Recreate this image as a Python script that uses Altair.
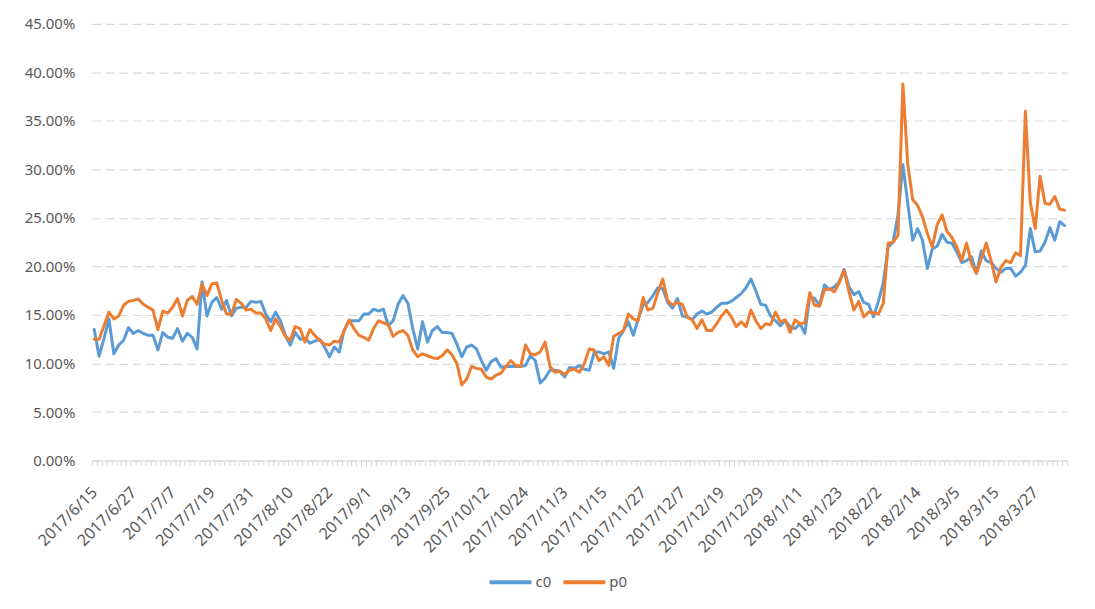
import json
import altair as alt
import pandas as pd

dates = [
    "2017/6/15", "2017/6/16", "2017/6/19", "2017/6/20", "2017/6/21", "2017/6/22", "2017/6/23", "2017/6/26",
    "2017/6/27", "2017/6/28", "2017/6/29", "2017/6/30",
    "2017/7/3", "2017/7/4", "2017/7/5", "2017/7/6", "2017/7/7", "2017/7/10", "2017/7/11", "2017/7/12",
    "2017/7/13", "2017/7/14", "2017/7/17", "2017/7/18", "2017/7/19", "2017/7/20", "2017/7/21", "2017/7/24",
    "2017/7/25", "2017/7/26", "2017/7/27", "2017/7/28", "2017/7/31",
    "2017/8/1", "2017/8/2", "2017/8/3", "2017/8/4", "2017/8/7", "2017/8/8", "2017/8/9", "2017/8/10",
    "2017/8/11", "2017/8/14", "2017/8/15", "2017/8/16", "2017/8/17", "2017/8/18", "2017/8/21", "2017/8/22",
    "2017/8/23", "2017/8/24", "2017/8/25", "2017/8/28", "2017/8/29", "2017/8/30", "2017/8/31",
    "2017/9/1", "2017/9/4", "2017/9/5", "2017/9/6", "2017/9/7", "2017/9/8", "2017/9/11", "2017/9/12",
    "2017/9/13", "2017/9/14", "2017/9/15", "2017/9/18", "2017/9/19", "2017/9/20", "2017/9/21", "2017/9/22",
    "2017/9/25", "2017/9/26", "2017/9/27", "2017/9/28", "2017/9/29",
    "2017/10/9", "2017/10/10", "2017/10/11", "2017/10/12", "2017/10/13", "2017/10/16", "2017/10/17",
    "2017/10/18", "2017/10/19", "2017/10/20", "2017/10/23", "2017/10/24", "2017/10/25", "2017/10/26",
    "2017/10/27", "2017/10/30", "2017/10/31",
    "2017/11/1", "2017/11/2", "2017/11/3", "2017/11/6", "2017/11/7", "2017/11/8", "2017/11/9", "2017/11/10",
    "2017/11/13", "2017/11/14", "2017/11/15", "2017/11/16", "2017/11/17", "2017/11/20", "2017/11/21",
    "2017/11/22", "2017/11/23", "2017/11/24", "2017/11/27", "2017/11/28", "2017/11/29", "2017/11/30",
    "2017/12/1", "2017/12/4", "2017/12/5", "2017/12/6", "2017/12/7", "2017/12/8", "2017/12/11", "2017/12/12",
    "2017/12/13", "2017/12/14", "2017/12/15", "2017/12/18", "2017/12/19", "2017/12/20", "2017/12/21",
    "2017/12/22", "2017/12/25", "2017/12/26", "2017/12/27", "2017/12/28", "2017/12/29",
    "2018/1/2", "2018/1/3", "2018/1/4", "2018/1/5", "2018/1/8", "2018/1/9", "2018/1/10", "2018/1/11",
    "2018/1/12", "2018/1/15", "2018/1/16", "2018/1/17", "2018/1/18", "2018/1/19", "2018/1/22", "2018/1/23",
    "2018/1/24", "2018/1/25", "2018/1/26", "2018/1/29", "2018/1/30", "2018/1/31",
    "2018/2/1", "2018/2/2", "2018/2/5", "2018/2/6", "2018/2/7", "2018/2/8", "2018/2/9", "2018/2/12",
    "2018/2/13", "2018/2/14", "2018/2/22", "2018/2/23", "2018/2/26", "2018/2/27", "2018/2/28",
    "2018/3/1", "2018/3/2", "2018/3/5", "2018/3/6", "2018/3/7", "2018/3/8", "2018/3/9", "2018/3/12",
    "2018/3/13", "2018/3/14", "2018/3/15", "2018/3/16", "2018/3/19", "2018/3/20", "2018/3/21", "2018/3/22",
    "2018/3/23", "2018/3/26", "2018/3/27", "2018/3/28", "2018/3/29", "2018/3/30",
    "2018/4/2", "2018/4/3", "2018/4/4",
]

c0 = [
    13.5, 10.75, 12.6, 14.6, 11.0, 11.9, 12.4, 13.7, 13.1, 13.4, 13.1, 12.9, 12.9, 11.4, 13.2, 12.7,
    12.6, 13.6, 12.3, 13.1, 12.7, 11.5, 18.4, 14.9, 16.3, 16.8, 15.6, 16.5, 14.9, 15.7, 15.8, 15.8,
    16.4, 16.3, 16.4, 15.1, 14.3, 15.3, 14.4, 12.9, 11.9, 13.2, 12.5, 12.6, 12.1, 12.3, 12.5, 11.7,
    10.7, 11.7, 11.2, 13.4, 14.4, 14.4, 14.4, 15.1, 15.1, 15.6, 15.4, 15.6, 13.9, 14.4, 16.1, 17.0,
    16.2, 13.6, 11.5, 14.3, 12.2, 13.4, 13.8, 13.2, 13.2, 13.1, 12.0, 10.7, 11.7, 11.9, 11.5, 10.3,
    9.3, 10.2, 10.5, 9.6, 9.7, 9.7, 9.7, 9.7, 9.8, 10.8, 10.3, 8.0, 8.5, 9.3, 9.3, 9.2,
    8.6, 9.6, 9.5, 9.8, 9.4, 9.3, 11.1, 11.2, 11.0, 11.2, 9.5, 12.6, 13.4, 14.3, 12.9, 14.6,
    16.0, 16.3, 17.0, 17.8, 17.7, 16.3, 15.7, 16.7, 14.9, 14.8, 14.5, 15.1, 15.4, 15.1, 15.3, 15.8,
    16.2, 16.2, 16.4, 16.8, 17.2, 17.8, 18.7, 17.5, 16.1, 16.0, 14.9, 14.4, 13.9, 14.4, 13.8, 13.6,
    14.1, 13.1, 16.9, 16.7, 16.0, 18.1, 17.6, 17.9, 18.4, 19.7, 17.9, 17.1, 17.4, 16.3, 16.1, 14.8,
    16.4, 18.3, 22.0, 22.5, 25.3, 30.5, 26.5, 22.7, 23.9, 22.7, 19.8, 21.8, 22.1, 23.3, 22.5, 22.4,
    21.5, 20.4, 20.6, 21.0, 19.3, 21.6, 20.6, 20.4, 19.8, 19.4, 19.8, 19.8, 19.0, 19.4, 20.1, 23.9,
    21.5, 21.6, 22.5, 24.0, 22.7, 24.6, 24.2,
]

p0 = [
    12.5, 12.5, 13.9, 15.3, 14.6, 14.9, 16.0, 16.4, 16.5, 16.65, 16.1, 15.8, 15.5, 13.5, 15.4, 15.2,
    15.8, 16.7, 14.9, 16.5, 16.9, 16.1, 18.2, 17.0, 18.2, 18.3, 16.5, 15.1, 15.1, 16.6, 16.2, 15.5,
    15.6, 15.2, 15.2, 14.6, 13.4, 14.6, 13.8, 12.8, 12.4, 13.8, 13.6, 12.2, 13.5, 12.9, 12.4, 12.0,
    11.9, 12.3, 12.2, 13.4, 14.5, 13.6, 12.9, 12.7, 12.4, 13.6, 14.4, 14.2, 14.0, 12.8, 13.2, 13.4,
    12.9, 11.4, 10.7, 11.0, 10.8, 10.6, 10.5, 10.8, 11.4, 10.9, 10.0, 7.8, 8.4, 9.7, 9.5, 9.4,
    8.6, 8.4, 8.8, 9.0, 9.7, 10.3, 9.8, 9.7, 11.9, 11.0, 10.9, 11.2, 12.2, 9.7, 9.1, 9.2,
    8.9, 9.3, 9.4, 9.1, 10.0, 11.5, 11.4, 10.3, 10.7, 9.8, 12.8, 13.1, 13.4, 15.1, 14.6, 14.4,
    16.8, 15.5, 15.7, 17.3, 18.7, 16.5, 16.0, 16.3, 16.1, 14.8, 14.5, 13.6, 14.5, 13.4, 13.4, 14.1,
    14.9, 15.5, 14.8, 13.8, 14.3, 13.8, 15.5, 14.4, 13.6, 14.1, 14.0, 15.3, 14.3, 14.5, 13.2, 14.5,
    14.1, 14.2, 17.3, 16.0, 15.9, 17.6, 17.7, 17.4, 18.3, 19.6, 17.4, 15.5, 16.4, 14.8, 15.3, 15.2,
    15.1, 16.2, 22.4, 22.5, 23.2, 38.8, 30.5, 26.9, 26.3, 25.1, 23.4, 22.0, 24.3, 25.3, 23.6, 23.0,
    22.0, 20.6, 22.4, 20.3, 19.3, 20.8, 22.4, 20.6, 18.4, 19.9, 20.6, 20.4, 21.4, 21.1, 36.0, 26.6,
    23.9, 29.3, 26.5, 26.4, 27.2, 25.9, 25.8,
]

series_names = ["c0", "p0"]
series_colors = ["#5B9BD5", "#ED7D31"]
y_ticks = [0, 0.05, 0.10, 0.15, 0.20, 0.25, 0.30, 0.35, 0.40, 0.45]

rows = []
for name, vals in zip(series_names, [c0, p0]):
    for i, (d, v) in enumerate(zip(dates, vals)):
        rows.append({"idx": i, "date": d, "series": name, "value": v / 100.0})
df = pd.DataFrame(rows)

label_expr = "datum.value % 8 == 0 ? " + json.dumps(dates) + "[datum.value] : ''"

FONT = "Noto Sans"
GRAY = "#595959"

chart = (
    alt.Chart(df)
    .mark_line(strokeWidth=3, strokeJoin="round", strokeCap="round")
    .encode(
        x=alt.X(
            "idx:O",
            sort=None,
            bandPosition=0.5,
            scale=alt.Scale(type="band", paddingInner=0, paddingOuter=0),
            axis=alt.Axis(
                title=None,
                labelExpr=label_expr,
                labelOverlap=False,
                labelAngle=315,
                labelAlign="right",
                labelBaseline="middle",
                labelPadding=24,
                labelFontSize=16,
                labelFont=FONT,
                labelColor=GRAY,
                tickBand="extent",
                tickSize=5,
                tickColor="#d9d9d9",
                tickWidth=1,
                domainColor="#d9d9d9",
                domainWidth=1,
                grid=False,
            ),
        ),
        y=alt.Y(
            "value:Q",
            scale=alt.Scale(domain=[0, 0.45], nice=False),
            axis=alt.Axis(
                title=None,
                values=y_ticks,
                format=".2%",
                ticks=False,
                domain=False,
                labelPadding=17,
                labelFontSize=15,
                labelFont=FONT,
                labelColor=GRAY,
                grid=True,
                gridColor="#d9d9d9",
                gridDash=[9, 4.5],
                gridWidth=1.2,
            ),
        ),
        color=alt.Color(
            "series:N",
            scale=alt.Scale(domain=series_names, range=series_colors),
            legend=alt.Legend(
                title=None,
                orient="none",
                direction="horizontal",
                legendX=397,
                legendY=537,
                symbolType="stroke",
                symbolSize=1764,
                symbolStrokeWidth=4,
                labelFontSize=15,
                labelFont=FONT,
                labelColor=GRAY,
                labelOffset=2,
                columnPadding=4,
            ),
        ),
        order=alt.Order("idx:Q"),
    )
    .properties(
        width=978,
        height=438,
        background="white",
        autosize=alt.AutoSizeParams(type="none"),
        padding={"left": 84, "top": 15, "right": 20, "bottom": 145},
    )
    .configure_view(strokeWidth=0, strokeOpacity=0)
)

chart.save("out.html", embed_options={"renderer": "svg", "actions": False})
